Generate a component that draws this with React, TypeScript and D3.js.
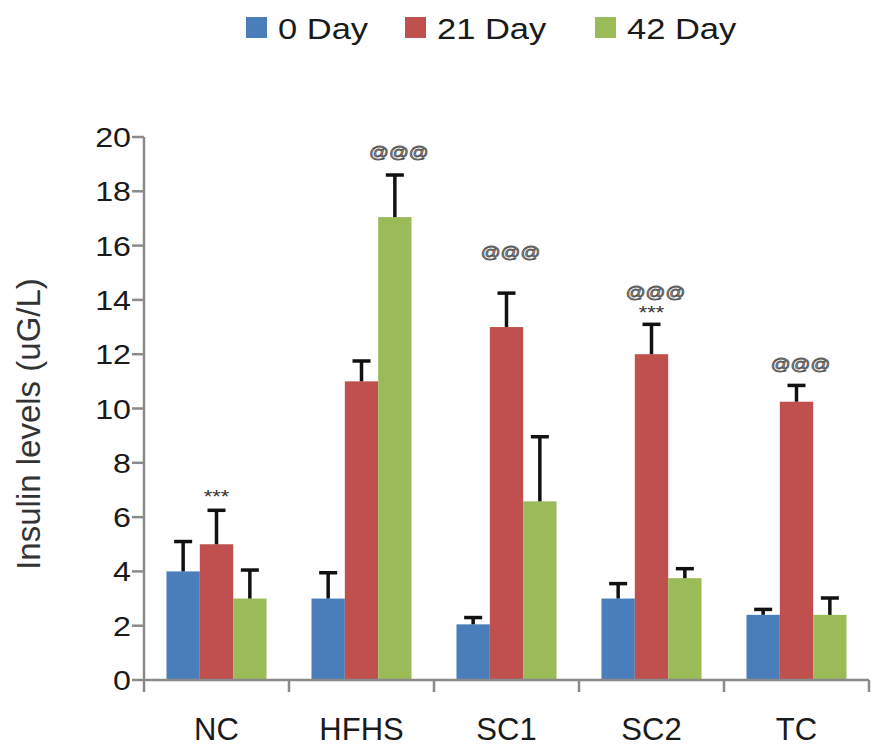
import React from 'react';
import { scaleBand, scaleLinear, range } from 'd3';

const width = 871;
const height = 750;

const categories = ['NC', 'HFHS', 'SC1', 'SC2', 'TC'];
const series = ['0 Day', '21 Day', '42 Day'];
const colors = ['#4a7ebb', '#c0504d', '#9bbb59'];

// values per series, in category order
const day0 = [4.0, 3.0, 2.05, 3.0, 2.4];
const day21 = [5.0, 11.0, 13.0, 12.0, 10.25];
const day42 = [3.0, 17.05, 6.58, 3.75, 2.4];
const err0 = [1.1, 0.95, 0.25, 0.55, 0.2];
const err21 = [1.25, 0.75, 1.25, 1.1, 0.6];
const err42 = [1.05, 1.55, 2.38, 0.35, 0.62];

const values = [day0, day21, day42];
const errors = [err0, err21, err42];

// significance marks: category, series index, text, y value of its centre
const markCats = ['NC', 'HFHS', 'SC1', 'SC2', 'SC2', 'TC'];
const markSeries = [1, 2, 1, 1, 1, 1];
const markText = ['***', '@@@', '@@@', '@@@', '***', '@@@'];
const markY = [6.75, 19.4, 15.7, 14.25, 13.5, 11.6];

const yTicks = range(0, 21, 2);

const left = 144;
const right = 869;
const bottom = 680;
const top = 137;

const x = scaleBand().domain(categories).range([left, right]).paddingInner(0.31).paddingOuter(0.155);
const xSub = scaleBand().domain(series).range([0, x.bandwidth()]);
const y = scaleLinear().domain([0, 20]).range([bottom, top]);

const legendX = [246, 405, 595];
const axisColor = '#8a8a8a';
const font = 'Arial, "Liberation Sans", sans-serif';

// text stretched a bit horizontally, like the source image
const SText = ({ x, y, sx = 1.15, children, ...rest }: any) => (
    <text transform={`translate(${x},${y}) scale(${sx},1)`} fontFamily={font} {...rest}>{children}</text>
);

const App = () => {
    return (
        <svg width={width} height={height} style={{ position: 'absolute', left: 0, top: 0, background: '#fff' }}>
            {/* legend */}
            {series.map((s, i) => (
                <g key={s}>
                    <rect x={legendX[i]} y={17} width={21} height={21} fill={colors[i]} />
                    <SText x={legendX[i] + 32} y={39} fontSize={30} fill="#1a1a1a">{s}</SText>
                </g>
            ))}

            {/* y axis title */}
            <text transform={`translate(40, 424) rotate(-90)`} textAnchor="middle" fontFamily={font} fontSize={33} fill="#333">
                Insulin levels (uG/L)
            </text>

            {/* bars */}
            {categories.map((c, ci) => (
                <g key={c}>
                    {series.map((s, si) => {
                        const v = values[si][ci];
                        return (
                            <rect key={s} x={x(c)! + xSub(s)!} y={y(v)} width={xSub.bandwidth()} height={y(0) - y(v)} fill={colors[si]} />
                        );
                    })}
                </g>
            ))}

            {/* error bars */}
            {categories.map((c, ci) => series.map((s, si) => {
                const v = values[si][ci];
                const e = errors[si][ci];
                const cx = x(c)! + xSub(s)! + xSub.bandwidth() / 2;
                return (
                    <g key={c + s} stroke="#111" strokeWidth={3.5}>
                        <line x1={cx} x2={cx} y1={y(v)} y2={y(v + e)} />
                        <line x1={cx - 9} x2={cx + 9} y1={y(v + e)} y2={y(v + e)} />
                    </g>
                );
            }))}

            {/* significance marks */}
            {markText.map((t, i) => {
                const s = series[markSeries[i]];
                const cx = x(markCats[i])! + xSub(s)! + xSub.bandwidth() / 2 + (t === '@@@' ? 4 : 0);
                return t === '@@@' ? (
                    <SText key={i} x={cx} y={y(markY[i])} textAnchor="middle" dominantBaseline="middle" fontSize={17} fill="#aaa" stroke="#555" strokeWidth={0.8}>{t}</SText>
                ) : (
                    <SText key={i} x={cx} y={y(markY[i]) + 6} textAnchor="middle" fontSize={19} fill="#333">{t}</SText>
                );
            })}

            {/* y axis */}
            <line x1={left} x2={left} y1={y(0)} y2={y(20)} stroke={axisColor} strokeWidth={2.5} />
            {yTicks.map(t => (
                <g key={t}>
                    <line x1={left - 12} x2={left} y1={y(t)} y2={y(t)} stroke={axisColor} strokeWidth={2.5} />
                    <SText x={131} y={y(t) + 10} textAnchor="end" fontSize={28} fill="#1a1a1a">{t}</SText>
                </g>
            ))}

            {/* x axis */}
            <line x1={left} x2={right} y1={bottom} y2={bottom} stroke={axisColor} strokeWidth={2.5} />
            {range(categories.length + 1).map(i => {
                const tx = left + i * x.step();
                return <line key={i} x1={tx} x2={tx} y1={bottom} y2={bottom + 12} stroke={axisColor} strokeWidth={2.5} />;
            })}
            {categories.map(c => (
                <SText key={c} x={x(c)! + x.bandwidth() / 2} y={740} sx={1} textAnchor="middle" fontSize={31} fill="#1a1a1a">{c}</SText>
            ))}
        </svg>
    );
};

export default App;
